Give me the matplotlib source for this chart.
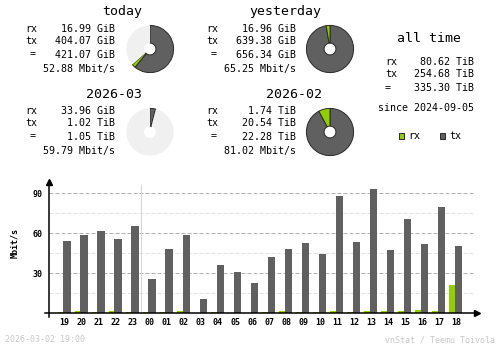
import matplotlib
matplotlib.use('Agg')
import matplotlib.pyplot as plt
from matplotlib.patches import Rectangle
import numpy as np

W, H = 500, 348
DPI = 100

# hourly traffic, Mbit/s
hours = ['19', '20', '21', '22', '23', '00', '01', '02', '03', '04', '05', '06',
         '07', '08', '09', '10', '11', '12', '13', '14', '15', '16', '17', '18']
rx_rate = [0.8, 1.5, 0.8, 1.5, 0.8, 0.8, 0.8, 1.5, 0.2, 0.8, 0.2, 0.2,
           0.8, 1.5, 0.8, 0.8, 1.5, 0.8, 1.5, 1.5, 1.5, 2.4, 1.5, 21.2]
tx_rate = [54.2, 58.7, 61.7, 55.7, 65.5, 25.7, 48.2, 58.7, 10.7, 36.2, 31.0, 22.7,
           42.2, 48.2, 52.7, 44.5, 88.0, 53.5, 93.2, 47.5, 70.7, 52.0, 79.7, 50.5]

# summary blocks
periods = ['today', 'yesterday', '2026-03', '2026-02']
rx_text = ['16.99 GiB', '16.96 GiB', '33.96 GiB', '1.74 TiB']
tx_text = ['404.07 GiB', '639.38 GiB', '1.02 TiB', '20.54 TiB']
total_text = ['421.07 GiB', '656.34 GiB', '1.05 TiB', '22.28 TiB']
rate_text = ['52.88 Mbit/s', '65.25 Mbit/s', '59.79 Mbit/s', '81.02 Mbit/s']
rx_gib = [16.99, 16.96, 33.96, 1.74 * 1024]
tx_gib = [404.07, 639.38, 1.02 * 1024, 20.54 * 1024]
pie_fill = [0.635, 1.0, 0.04, 1.0]

alltime_labels = ['rx', 'tx', '=']
alltime_values = ['80.62 TiB', '254.68 TiB', '335.30 TiB']
since_text = 'since 2024-09-05'

RX = '#92cf00'
TX = '#606060'
PIE_BG = '#f0f0f0'
EDGE = '#2a2a2a'
GRID = '#b0b0b0'
GRID_L = '#e2e2e2'
FOOT = '#c8c8c8'
FONT = 'DejaVu Sans Mono'
BIG = 9.5
MID = 7.2
SMALL = 6

plt.rcParams['font.family'] = FONT

fig = plt.figure(figsize=(W / DPI, H / DPI), dpi=DPI)
fig.patch.set_facecolor('white')

# pixel-coordinate layer for text
bg = fig.add_axes([0, 0, 1, 1])
bg.set_xlim(0, W)
bg.set_ylim(H, 0)
bg.axis('off')
bg.patch.set_visible(False)

title_pos = [(122, 12), (285, 12), (114, 94), (294, 94)]
block_dx = [0, 181, 0, 181]
block_y = [12, 12, 94, 94]
pie_c = [(150, 49), (330, 49), (150, 132), (330, 132)]
R = 24.3

for i, name in enumerate(periods):
    tx0, ty0 = title_pos[i]
    bg.text(tx0, ty0, name, fontsize=BIG, ha='center', va='center')
    dx, y0 = block_dx[i], block_y[i]
    rows = [(17, 'rx', rx_text[i]), (29.5, 'tx', tx_text[i]), (42.5, '=', total_text[i])]
    for off, lab, val in rows:
        if lab == '=':
            bg.text(33 + dx, y0 + off, lab, fontsize=MID, ha='center', va='center')
        else:
            bg.text(25 + dx, y0 + off, lab, fontsize=MID, ha='left', va='center')
        bg.text(115 + dx, y0 + off, val, fontsize=MID, ha='right', va='center')
    bg.text(115 + dx, y0 + 57, rate_text[i], fontsize=MID, ha='right', va='center')

    # donut
    cx, cy = pie_c[i]
    pax = fig.add_axes([(cx - R) / W, 1 - (cy + R) / H, 2 * R / W, 2 * R / H])
    total = rx_gib[i] + tx_gib[i]
    vals = [tx_gib[i] / total * pie_fill[i], rx_gib[i] / total * pie_fill[i]]
    cols = [TX, RX]
    if pie_fill[i] < 1:
        vals.append(1 - pie_fill[i])
        cols.append(PIE_BG)
    wedges, _ = pax.pie(vals, colors=cols, startangle=90, counterclock=False,
                        radius=1, wedgeprops=dict(width=0.75, linewidth=0.7))
    for w, c in zip(wedges, cols):
        w.set_edgecolor('none' if c == PIE_BG else EDGE)
    pax.set_xlim(-1.03, 1.03)
    pax.set_ylim(-1.03, 1.03)
    pax.axis('off')

# all time block
bg.text(429, 39, 'all time', fontsize=BIG, ha='center', va='center')
for off, lab, val in zip([62, 74, 87.7], alltime_labels, alltime_values):
    if lab == '=':
        bg.text(388, off, lab, fontsize=MID, ha='center', va='center')
    else:
        bg.text(385, off, lab, fontsize=MID, ha='left', va='center')
    bg.text(474, off, val, fontsize=MID, ha='right', va='center')
bg.text(426.5, 107.7, since_text, fontsize=MID, ha='center', va='center')

# legend
bg.add_patch(Rectangle((398.5, 133), 5.5, 5.5, facecolor=RX, edgecolor=EDGE, lw=0.7))
bg.text(408, 136, 'rx', fontsize=MID, ha='left', va='center')
bg.add_patch(Rectangle((439.5, 133), 5.5, 5.5, facecolor=TX, edgecolor=EDGE, lw=0.7))
bg.text(449, 136, 'tx', fontsize=MID, ha='left', va='center')

# hourly bar chart
ax = fig.add_axes([45 / W, (H - 316.7) / H, 432 / W, 134.7 / H])
x = np.arange(len(hours))
ax.set_xlim(-1.157, 24.21)
ax.set_ylim(-2.5, 98.5)
ax.patch.set_visible(False)

for v in [15, 45, 75]:
    ax.hlines(v, -0.92, 24.0, colors=GRID_L, linestyles=(0, (4, 2)), lw=0.72, zorder=1)
for v in [30, 60, 90]:
    ax.hlines(v, -0.92, 24.0, colors=GRID, linestyles=(0, (4, 2)), lw=0.72, zorder=1)
ax.vlines(4.5, 0, 97, colors='#d8d8d8', lw=0.8, zorder=1)

ax.bar(x - 0.247, rx_rate, width=0.33, color=RX, zorder=2)
ax.bar(x + 0.135, tx_rate, width=0.435, color=TX, zorder=2)

for s in ['top', 'right']:
    ax.spines[s].set_visible(False)
ax.spines['left'].set_position(('data', -0.92))
ax.spines['bottom'].set_position(('data', 0))
for s in ['left', 'bottom']:
    ax.spines[s].set_linewidth(1.1)
    ax.spines[s].set_color('black')
ax.plot(-0.92, 98.5, marker='^', color='black', markersize=4, clip_on=False, zorder=3)
ax.plot(24.21, 0, marker='>', color='black', markersize=4, clip_on=False, zorder=3)

ax.set_xticks(x)
ax.set_xticklabels(hours, fontsize=SMALL, fontweight='bold')
ax.set_yticks([30, 60, 90])
ax.set_yticklabels(['30', '60', '90'], fontsize=SMALL, fontweight='bold')
ax.tick_params(axis='x', length=0, pad=3)
ax.tick_params(axis='y', length=0, pad=5)

bg.text(15, 243, 'Mbit/s', fontsize=SMALL, fontweight='bold', rotation=90,
        ha='center', va='center')

# footer
bg.text(5, 340, '2026-03-02 19:00', fontsize=SMALL, color=FOOT, ha='left', va='center')
bg.text(495, 340, 'vnStat / Teemu Toivola', fontsize=SMALL, color=FOOT, ha='right', va='center')

fig.savefig('out.png', dpi=DPI, facecolor='white')
